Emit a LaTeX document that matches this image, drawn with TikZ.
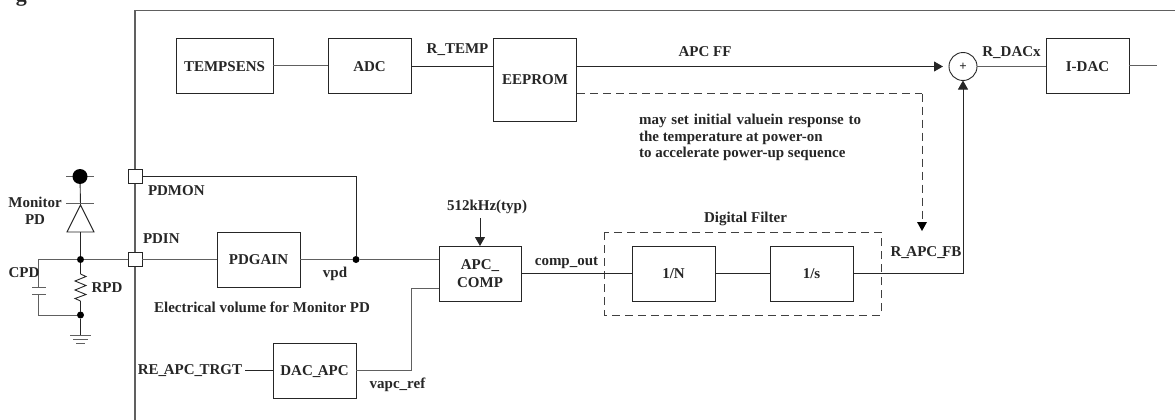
\documentclass[tikz,border=0pt]{standalone}
\usepackage{fontspec}
\setmainfont{Liberation Serif}[BoldFont=* Bold]
\usetikzlibrary{arrows.meta}
\definecolor{frame}{HTML}{606060}
\newcommand{\usc}{\_\kern-2.5pt}
\tikzset{
  x=1pt,y=-1pt,
  every node/.style={font=\fontsize{15}{16}\selectfont\bfseries,text=black!85,inner sep=0pt,outer sep=0pt},
  blockbox/.style={draw=black!85,line width=0.9pt,fill=white,anchor=center,text height=10pt,text depth=0pt},
  wire/.style={draw=black!85,line width=0.9pt},
  gwire/.style={draw=frame,line width=1pt},
  framewire/.style={draw=frame,line width=1.3pt},
  tip/.style={-{Triangle[length=9pt,width=10pt]}},
  dashwire/.style={draw=black!75,line width=0.9pt,dash pattern=on 8pt off 5pt},
  pad/.style={draw=black!85,fill=white,line width=0.9pt,minimum size=14pt},
  dot/.style={circle,fill=black,minimum size=7pt},
  lab/.style={anchor=center,text height=10pt,text depth=0pt},
  notelab/.style={anchor=west,text height=10pt,text depth=0pt}
}
\begin{document}
\begin{tikzpicture}
\useasboundingbox (0,0) rectangle (1175,420);
% clipped title fragment
\begin{scope}
\clip (0,0) rectangle (1175,420);
\node[anchor=base west,font=\fontsize{22}{24}\selectfont\bfseries] (titlefrag) at (16,2) {g};
\end{scope}
% frame
\coordinate (fbl) at (135,420);
\coordinate (ftl) at (135,10.5);
\coordinate (ftr) at (1175,10.5);
\draw[framewire] (fbl) -- (ftl) -- (ftr);
% blocks
\node[blockbox,minimum width=97pt,minimum height=55pt] (temp) at (224.5,66) {TEMPSENS};
\node[blockbox,minimum width=83pt,minimum height=55pt] (adc) at (369.5,66) {ADC};
\node[blockbox,minimum width=83pt,minimum height=83pt] (eeprom) at (535,79.5) {EEPROM};
\node[blockbox,minimum width=83pt,minimum height=55pt] (idac) at (1087.5,66) {I-DAC};
\node[blockbox,minimum width=83pt,minimum height=55pt] (pdgain) at (258.5,259.5) {PDGAIN};
\node[blockbox,minimum width=83pt,minimum height=55pt] (dac) at (314.5,370.5) {DAC\usc APC};
\node[blockbox,minimum width=82pt,minimum height=55pt] (comp) at (480,273.5) {};
\node[lab] (compa) at (480,264) {APC\_};
\node[lab] (compb) at (480,282) {COMP};
\node[blockbox,minimum width=83pt,minimum height=55pt] (ndiv) at (673.5,273.5) {1/N};
\node[blockbox,minimum width=83pt,minimum height=55pt] (integ) at (811.5,273.5) {1/s};
\node[circle,draw=black!85,line width=0.9pt,minimum size=28pt,font=\fontsize{13}{13}\selectfont\bfseries] (sum) at (963,66.5) {+};
\node[pad] (pdmon) at (135,176.5) {};
\node[pad] (pdin) at (135,259.5) {};
% digital filter frame
\coordinate (dfa) at (604,232);
\coordinate (dfb) at (881,315);
\draw[dashwire] (dfa) rectangle (dfb);
% upper wires
\draw[gwire] (temp) -- (adc);
\draw[wire] (adc.east) -- (eeprom.west |- adc.east);
\draw[wire,tip] (eeprom.east |- sum.west) -- (943,66.5);
\draw[gwire] (sum.east) -- (idac.west |- sum.east);
\coordinate (idacend) at (1157,66);
\draw[gwire] (idac.east) -- (idacend);
% dashed link
\coordinate (dstart) at (577,93.5);
\coordinate (dcorner) at (922,93.5);
\coordinate (dend) at (922,231);
\draw[dashwire] (dstart) -- (dcorner);
\draw[dashwire] (dcorner) -- (922,222);
\draw[fill=black,draw=none] (917,222) -- (927,222) -- (dend) -- cycle;
% pins and main signal
\node[dot] (jvpd) at (356,259.5) {};
\draw[wire] (pdmon.east) -| (jvpd);
\draw[gwire] (pdin.east) -- (pdgain.west);
\draw[gwire] (pdgain.east) -- (jvpd);
\draw[gwire] (jvpd) -- (comp.west |- jvpd);
\coordinate (bend) at (411,370.5);
\draw[gwire] (dac.east) -- (bend) |- (comp.west |- 0,288);
\draw[wire] (comp.east) -- (ndiv.west);
\draw[wire] (ndiv) -- (integ);
\coordinate (fbcorner) at (963,273.5);
\draw[wire,tip] (integ.east) -- (fbcorner) -- (sum.south);
\coordinate (clk) at (480,218);
\draw[wire,tip] (clk) -- (comp.north);
% external circuit
\coordinate (vl) at (66,176.5);
\coordinate (vr) at (94,176.5);
\draw[gwire] (vl) -- (vr);
\node[dot,minimum size=15pt] (vcc) at (80,176.5) {};
\coordinate (dk) at (80.5,205);
\coordinate (dkl) at (66,203.7);
\coordinate (dkr) at (94,203.7);
\coordinate (dbl) at (67,232);
\coordinate (dbr) at (94,232);
\coordinate (dbm) at (80.5,232);
\draw[wire] (vcc) -- (dk);
\draw[gwire] (dkl) -- (dkr);
\draw[wire] (dk) -- (dbl) -- (dbr) -- cycle;
\node[dot] (ja) at (80.5,259.5) {};
\node[dot] (jb) at (80.5,315) {};
\draw[wire] (dbm) -- (ja);
\draw[gwire] (ja) -- (pdin.west);
% resistor
\coordinate (ra) at (80.5,274);
\coordinate (rb) at (80.5,301);
\draw[wire] (ja) -- (ra);
\draw[wire] (ra) -- (86,276.5) -- (75,281) -- (86,285.5) -- (75,290) -- (86,294.5) -- (75,298.5) -- (rb);
\draw[wire] (rb) -- (jb);
% capacitor
\coordinate (ca) at (38.5,259.5);
\coordinate (cp1) at (38.5,287);
\coordinate (cp2) at (38.5,294);
\coordinate (cb) at (38.5,315);
\draw[gwire] (ja) -- (ca) -- (cp1);
\draw[gwire] (cp2) -- (cb) -- (jb);
\draw[gwire] (32,287) -- (46,287);
\draw[gwire] (32,294) -- (46,294);
% ground
\coordinate (gnd) at (80.5,335);
\draw[wire] (jb) -- (gnd);
\draw[gwire] (70,335) -- (91,335);
\draw[gwire] (73,339) -- (88,339);
\draw[gwire] (76,343) -- (85,343);
% RE_APC_TRGT
\node[lab] (trgt) at (190,369) {RE\usc APC\usc TRGT};
\coordinate (trgtout) at (245,370.5);
\draw[wire] (trgtout) -- (dac.west);
% labels
\node[lab] (lmon) at (35,202) {Monitor};
\node[lab] (lpd) at (35,219) {PD};
\node[notelab] (lpdmon) at (148,190) {PDMON};
\node[notelab] (lpdin) at (143,238) {PDIN};
\node[lab] (lcpd) at (24,272) {CPD};
\node[lab] (lrpd) at (107,287) {RPD};
\node[lab] (lvpd) at (335,272) {vpd};
\node[lab] (lelec) at (262,307) {Electrical volume for Monitor PD};
\node[lab] (lvref) at (397.5,383) {vapc\_ref};
\node[lab] (lclk) at (487,205) {512kHz(typ)};
\node[lab] (lcout) at (566.5,260) {comp\_out};
\node[lab] (lfilt) at (745.5,217) {Digital Filter};
\node[lab] (lfb) at (926,251) {R\usc APC\usc FB};
\node[lab] (ldac) at (1011.5,52) {R\_DACx};
\node[lab] (ltemp) at (457.5,49) {R\_TEMP};
\node[lab] (lff) at (705,52) {APC FF};
\node[notelab] (n1) at (639,119) {\spaceskip=5pt may set initial valuein response to};
\node[notelab] (n2) at (639,136) {the temperature at power-on};
\node[notelab] (n3) at (639,152) {to accelerate power-up sequence};
\end{tikzpicture}
\end{document}
